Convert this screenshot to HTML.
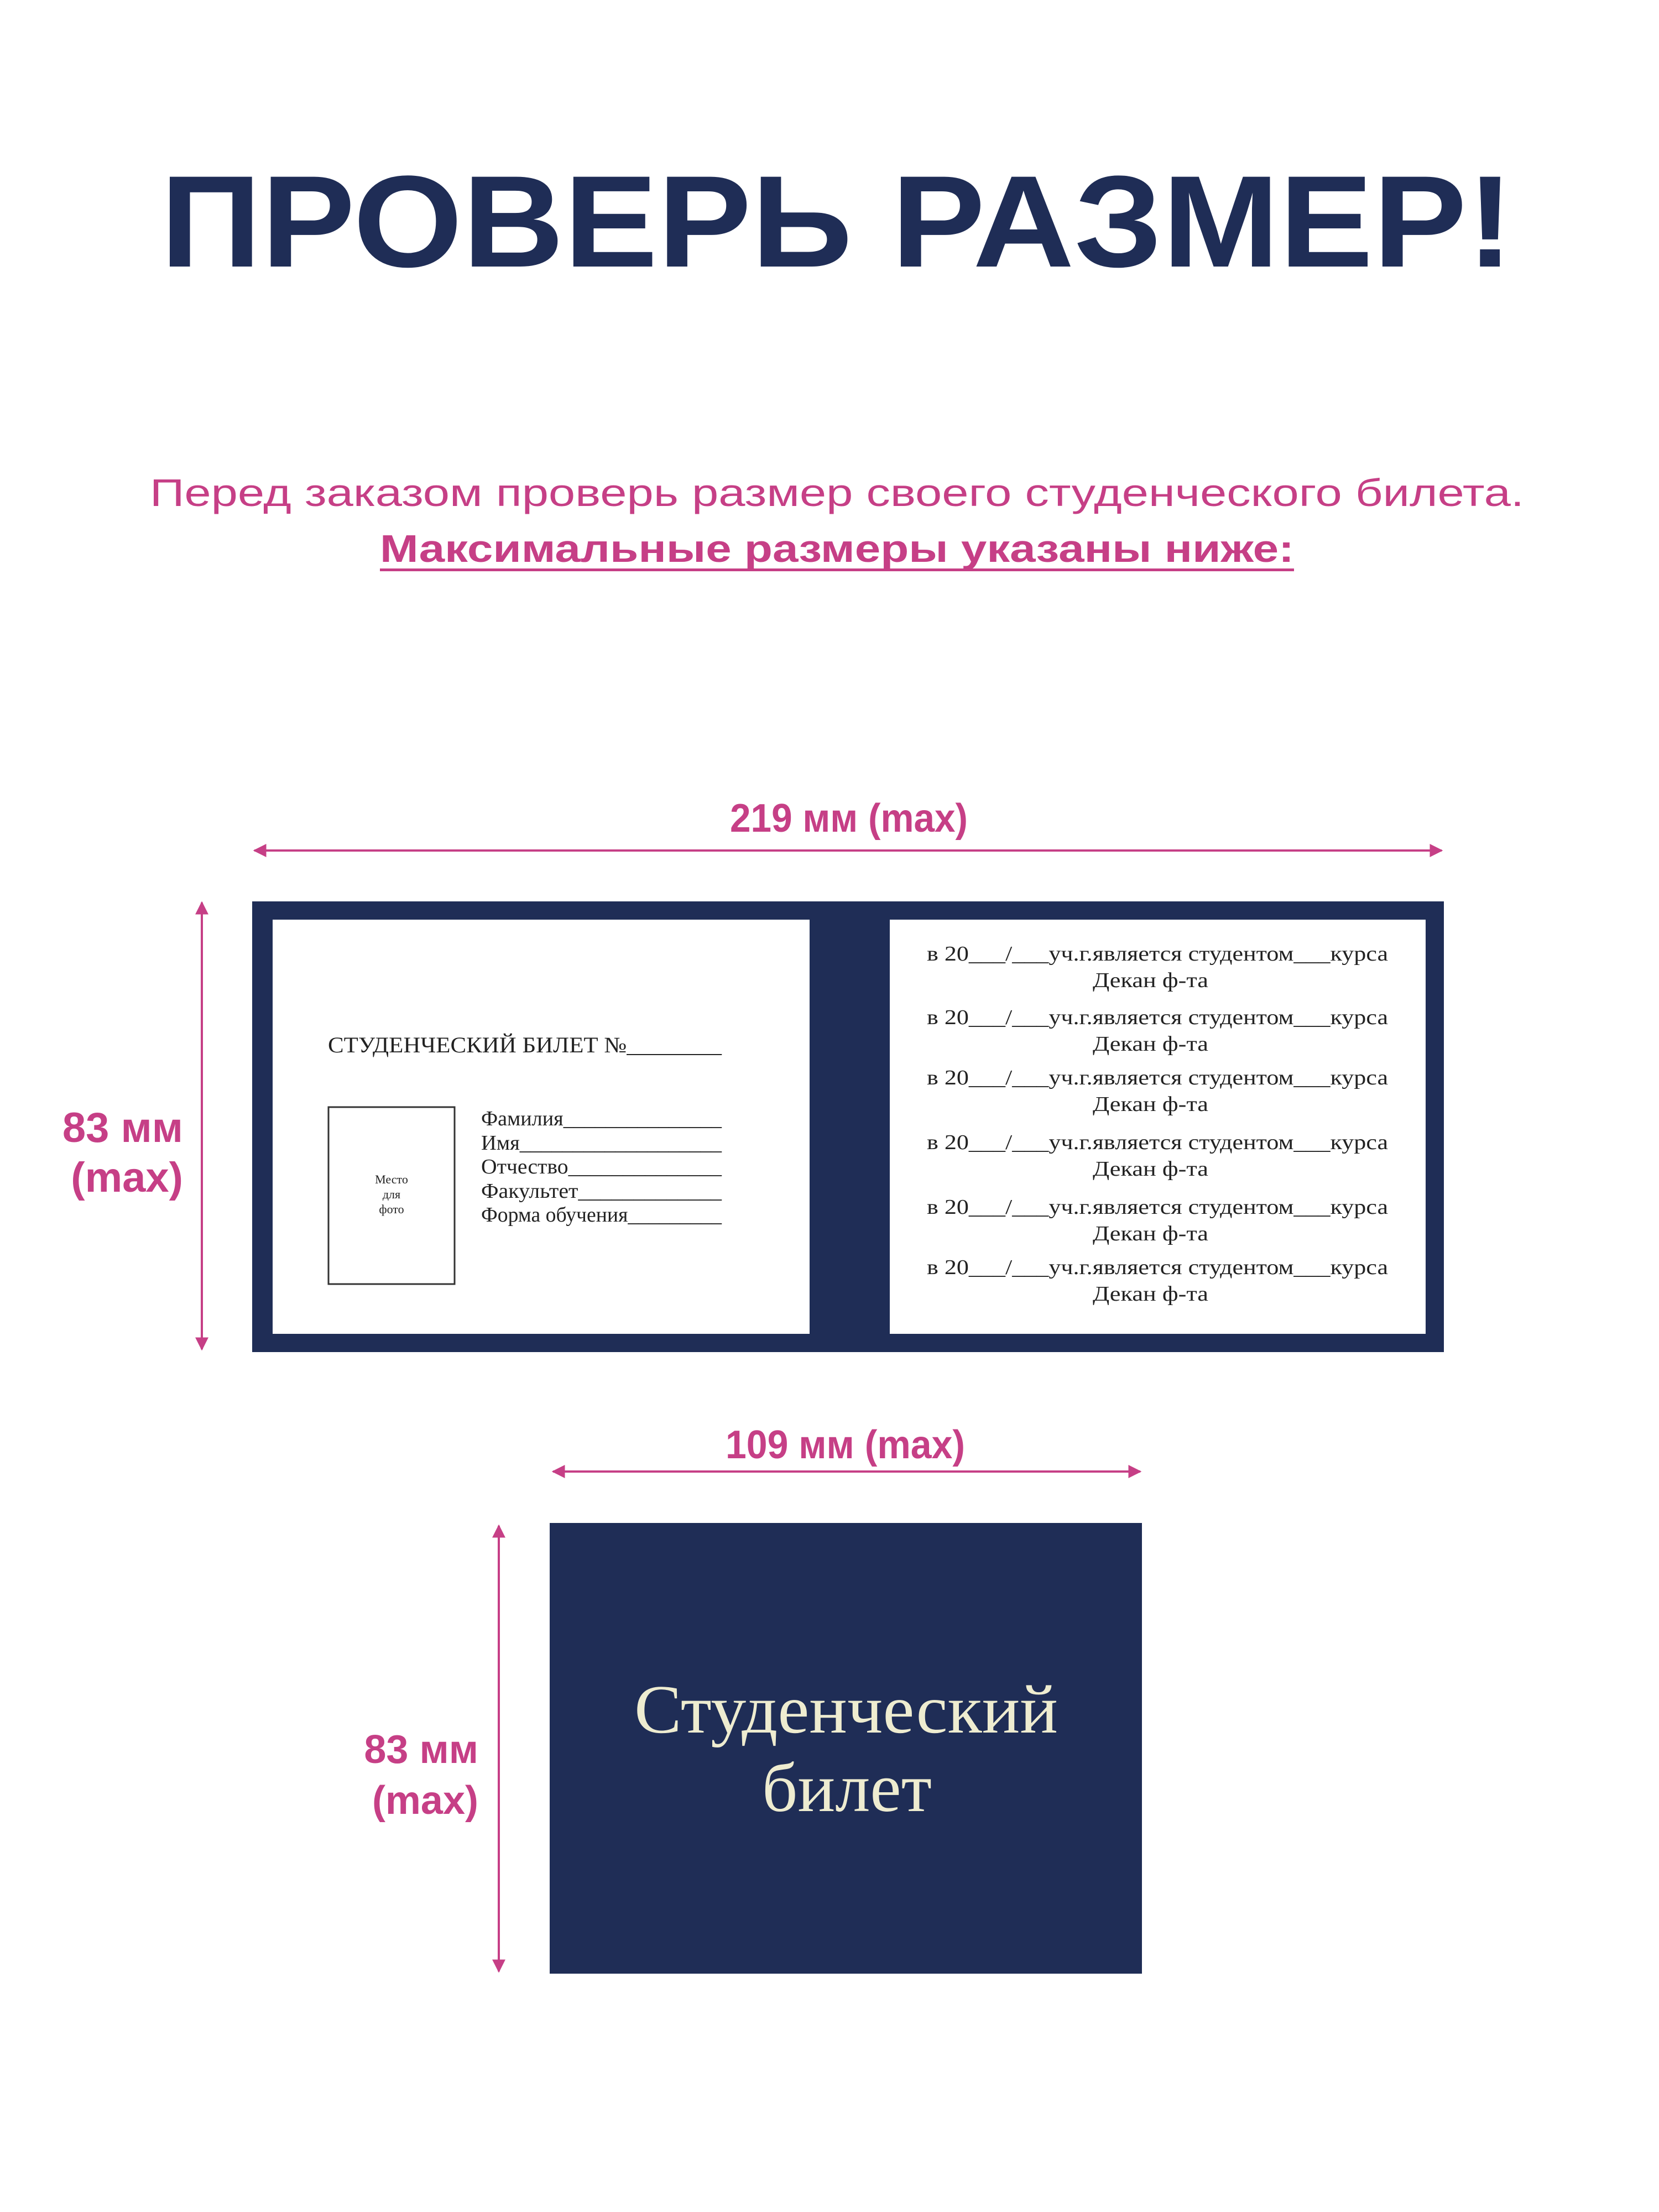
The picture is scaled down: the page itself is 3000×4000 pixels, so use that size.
<!DOCTYPE html>
<html><head><meta charset="utf-8"><style>html,body{margin:0;padding:0;background:#fff}svg{display:block}</style></head>
<body>
<svg width="3000" height="4000" viewBox="0 0 3000 4000" xmlns="http://www.w3.org/2000/svg">
<defs>
<marker id="ah" viewBox="0 0 10 10" refX="9" refY="5" markerWidth="6" markerHeight="6" orient="auto-start-reverse" markerUnits="strokeWidth">
<path d="M0,0 L10,5 L0,10 z" fill="#c63f86"/></marker>
</defs>
<rect width="3000" height="4000" fill="#fff"/>
<g font-family="Liberation Sans, sans-serif" font-weight="bold">
<text x="290" y="482" font-size="236" fill="#1f2d56" textLength="2447" lengthAdjust="spacingAndGlyphs">ПРОВЕРЬ РАЗМЕР!</text>
</g>
<g font-family="Liberation Sans, sans-serif" fill="#c63f86">
<text x="271" y="915" font-size="70" textLength="2485" lengthAdjust="spacingAndGlyphs">Перед заказом проверь размер своего студенческого билета.</text>
<text x="687" y="1016" font-size="70" font-weight="bold" textLength="1653" lengthAdjust="spacingAndGlyphs">Максимальные размеры указаны ниже:</text>
<rect x="687" y="1028" width="1653" height="5"/>
<text x="1320" y="1504" font-size="72" font-weight="bold" textLength="430" lengthAdjust="spacingAndGlyphs">219 мм (max)</text>
<text x="331" y="2065" font-size="76" font-weight="bold" text-anchor="end">83 мм</text>
<text x="331" y="2155" font-size="76" font-weight="bold" text-anchor="end">(max)</text>
<text x="1312" y="2637" font-size="72" font-weight="bold" textLength="433" lengthAdjust="spacingAndGlyphs">109 мм (max)</text>
<text x="865" y="3188" font-size="72" font-weight="bold" text-anchor="end">83 мм</text>
<text x="865" y="3280" font-size="72" font-weight="bold" text-anchor="end">(max)</text>
</g>
<g stroke="#c63f86" stroke-width="4" marker-start="url(#ah)" marker-end="url(#ah)">
<line x1="460" y1="1538" x2="2607" y2="1538"/>
<line x1="365" y1="1632" x2="365" y2="2440"/>
<line x1="1000" y1="2661" x2="2062" y2="2661"/>
<line x1="902" y1="2759" x2="902" y2="3565"/>
</g>
<rect x="456" y="1630" width="2155" height="815" fill="#1f2d56"/>
<rect x="493" y="1663" width="971" height="749" fill="#fff"/>
<rect x="1609" y="1663" width="969" height="749" fill="#fff"/>
<g font-family="Liberation Serif, serif" fill="#222">
<text x="593" y="1903" font-size="40" textLength="712" lengthAdjust="spacingAndGlyphs">СТУДЕНЧЕСКИЙ БИЛЕТ №________</text>
<rect x="594" y="2002" width="228" height="320" fill="none" stroke="#333" stroke-width="3"/>
<text x="708" y="2140" font-size="22" text-anchor="middle">Место</text>
<text x="708" y="2167" font-size="22" text-anchor="middle">для</text>
<text x="708" y="2194" font-size="22" text-anchor="middle">фото</text>
<text x="870" y="2035" font-size="38" textLength="435" lengthAdjust="spacingAndGlyphs">Фамилия_______________</text>
<text x="870" y="2079" font-size="38" textLength="435" lengthAdjust="spacingAndGlyphs">Имя___________________</text>
<text x="870" y="2122" font-size="38" textLength="435" lengthAdjust="spacingAndGlyphs">Отчество______________</text>
<text x="870" y="2166" font-size="38" textLength="435" lengthAdjust="spacingAndGlyphs">Факультет_____________</text>
<text x="870" y="2209" font-size="38" textLength="435" lengthAdjust="spacingAndGlyphs">Форма обучения_________</text>
</g>
<g font-family="Liberation Serif, serif" fill="#222" font-size="38">
<text x="1676" y="1737" textLength="834" lengthAdjust="spacingAndGlyphs">в 20___/___уч.г.является студентом___курса</text>
<text x="1976" y="1785" textLength="209" lengthAdjust="spacingAndGlyphs">Декан ф-та</text>
<text x="1676" y="1852" textLength="834" lengthAdjust="spacingAndGlyphs">в 20___/___уч.г.является студентом___курса</text>
<text x="1976" y="1900" textLength="209" lengthAdjust="spacingAndGlyphs">Декан ф-та</text>
<text x="1676" y="1961" textLength="834" lengthAdjust="spacingAndGlyphs">в 20___/___уч.г.является студентом___курса</text>
<text x="1976" y="2009" textLength="209" lengthAdjust="spacingAndGlyphs">Декан ф-та</text>
<text x="1676" y="2078" textLength="834" lengthAdjust="spacingAndGlyphs">в 20___/___уч.г.является студентом___курса</text>
<text x="1976" y="2126" textLength="209" lengthAdjust="spacingAndGlyphs">Декан ф-та</text>
<text x="1676" y="2195" textLength="834" lengthAdjust="spacingAndGlyphs">в 20___/___уч.г.является студентом___курса</text>
<text x="1976" y="2243" textLength="209" lengthAdjust="spacingAndGlyphs">Декан ф-та</text>
<text x="1676" y="2304" textLength="834" lengthAdjust="spacingAndGlyphs">в 20___/___уч.г.является студентом___курса</text>
<text x="1976" y="2352" textLength="209" lengthAdjust="spacingAndGlyphs">Декан ф-та</text>
</g>
<rect x="994" y="2754" width="1071" height="815" fill="#1f2d56"/>
<g font-family="Liberation Serif, serif" fill="#eeecd0" font-size="125">
<text x="1147" y="3133" textLength="766" lengthAdjust="spacingAndGlyphs">Студенческий</text>
<text x="1378" y="3275" textLength="307" lengthAdjust="spacingAndGlyphs">билет</text>
</g>
</svg>
</body></html>
